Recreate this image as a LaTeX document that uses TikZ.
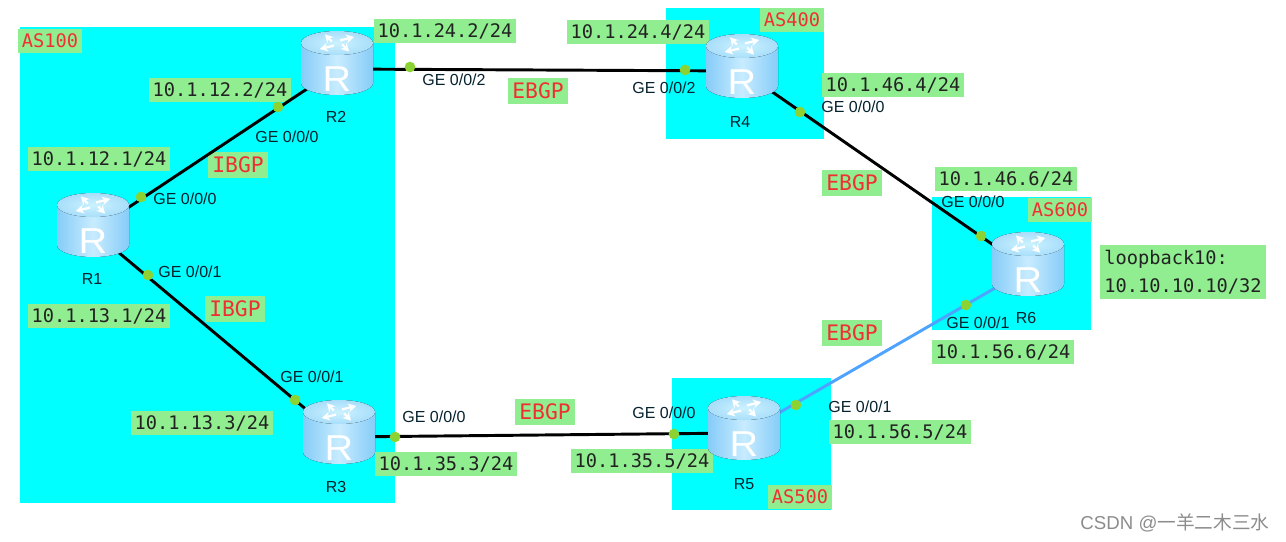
\documentclass[tikz,border=0pt]{standalone}
\usepackage{fontspec}
\setmainfont{Liberation Sans}
\setmonofont{DejaVu Sans Mono}
\newfontfamily\cjkfont{Noto Sans CJK SC}
\usetikzlibrary{arrows.meta, calc, positioning}
\definecolor{Zone}   {HTML}{00FFFF}
\definecolor{LGreen} {HTML}{90EE90}
\definecolor{TxtDark}{HTML}{222222}
\definecolor{TxtRed} {HTML}{F03030}
\definecolor{Dot}    {HTML}{8CD232}
\definecolor{Blue}   {HTML}{4DA3FF}
\definecolor{GeTxt}  {HTML}{06222E}
\definecolor{RtTop}  {HTML}{A8DEFA}
\definecolor{RtTopC} {HTML}{CCF2FF}
\definecolor{RtEdge} {HTML}{86CCF8}
\definecolor{RtMid}  {HTML}{C8ECFF}
\tikzset{
  zone/.style={fill=Zone, draw=none},
  ip/.style={
    rectangle, fill=LGreen, text=TxtDark,
    font=\ttfamily\fontsize{14}{21}\selectfont, align=left,
    inner xsep=3pt, inner ysep=3.5pt,
  },
  asn/.style={ip, text=TxtRed},
  peer/.style={ip, text=TxtRed, font=\ttfamily\fontsize{16}{20}\selectfont},
  ge/.style={font=\fontsize{12}{14}\selectfont, text=GeTxt, inner sep=0pt},
  rname/.style={font=\fontsize{12}{14}\selectfont, text=GeTxt, inner sep=0pt},
  rbox/.style={rectangle, minimum width=33pt, minimum height=27pt, inner sep=0pt},
  lnk/.style={line width=2.2pt, draw=black},
  port/.style={circle, fill=Dot, minimum size=8pt, inner sep=0pt},
  % router icon, drawn round its own centre
  pics/router/.style={code={
    \fill[left color=RtEdge, right color=RtEdge, middle color=RtMid]
      (-36,-20) -- (-36,20) arc[start angle=180, end angle=360, x radius=36, y radius=-12]
      -- (36,-20) -- cycle;
    \fill[inner color=RtTopC, outer color=RtTop] (0,-20) ellipse[x radius=36, y radius=12];
    \begin{scope}[shift={(0,-20)}, yscale=0.5]
      \foreach \a in {30,120,210,300}{
        \draw[white, line width=1.7pt, -{Stealth[length=6pt,width=6.5pt]}]
          (\a:6) -- (\a+25:21);
      }
    \end{scope}
    \node[text=white, font=\fontsize{27}{27}\selectfont, inner sep=0pt, xscale=1.1] at (0,16) {R};
  }},
}
\begin{document}
\begin{tikzpicture}[x=0.75pt,y=-0.75pt]
  \useasboundingbox (0,0) rectangle (1286,542);
  % AS areas
  \fill[zone] (20,27) rectangle (395,503);
  \fill[zone] (666,8) rectangle (824,139);
  \fill[zone] (672,378) rectangle (831,510);
  \fill[zone] (932,197) rectangle (1091,330);

  \node[asn] (as100) at (50,41) {AS100};
  \node[asn] (as400) at (792,20) {AS400};
  \node[asn] (as500) at (800,497) {AS500};
  \node[asn] (as600) at (1060,210) {AS600};

  \node[ip] (ip122) at (220,90) {10.1.12.2/24};
  \node[ip] (ip121) at (99,159) {10.1.12.1/24};
  \node[ip] (ip131) at (99,316) {10.1.13.1/24};
  \node[ip] (ip133) at (202,423) {10.1.13.3/24};
  \node[ip] (ip242) at (445,31) {10.1.24.2/24};
  \node[ip] (ip244) at (638,32) {10.1.24.4/24};
  \node[ip] (ip353) at (446,464) {10.1.35.3/24};
  \node[ip] (ip355) at (642,461) {10.1.35.5/24};
  \node[ip] (ip464) at (893,85) {10.1.46.4/24};
  \node[ip] (ip466) at (1006,179) {10.1.46.6/24};
  \node[ip] (ip566) at (1003,352) {10.1.56.6/24};
  \node[ip] (ip565) at (900,432) {10.1.56.5/24};
  \node[ip] (lo10) at (1183,272) {loopback10:\\10.10.10.10/32};

  \node[peer] (ibgpa) at (238,165) {IBGP};
  \node[peer] (ibgpb) at (235,309) {IBGP};
  \node[peer] (ebgpa) at (538,91) {EBGP};
  \node[peer] (ebgpb) at (852,183) {EBGP};
  \node[peer] (ebgpc) at (852,333) {EBGP};
  \node[peer] (ebgpd) at (545,412) {EBGP};

  % link end points, icons go on top
  \node[rbox] (R1) at (93,231) {};
  \node[rbox] (R2) at (337,69) {};
  \node[rbox] (R3) at (339,437) {};
  \node[rbox] (R4) at (742,71) {};
  \node[rbox] (R5) at (744,433) {};
  \node[rbox] (R6) at (1028,269) {};

  \draw[lnk] (R1)--(R2);
  \draw[lnk] (R1)--(R3);
  \draw[lnk] (R2)--(R4);
  \draw[lnk] (R3)--(R5);
  \draw[lnk] (R4)--(R6);
  \draw[lnk, draw=Blue] (R5)--(R6);

  \pic at (93,225) {router};
  \pic at (337,63) {router};
  \pic at (339,432) {router};
  \pic at (742,66) {router};
  \pic at (744,428) {router};
  \pic at (1028,264) {router};

  \foreach \n/\x/\y in {pa/141/197,pb/148/275,pc/278/107,pd/295/400,pe/395/437,pf/410/67,
                        pg/685/70,ph/674/434,pi/800/112,pj/981/236,pk/966/305,pl/796/405}{
    \node[port] (\n) at (\x,\y) {};
  }

  \node[rname] (n1) at (92,279) {R1};
  \node[rname] (n2) at (336,117) {R2};
  \node[rname] (n3) at (336,487) {R3};
  \node[rname] (n4) at (740,122) {R4};
  \node[rname] (n5) at (744,484) {R5};
  \node[rname] (n6) at (1026,318) {R6};

  \node[ge] (g1) at (185,199) {GE 0/0/0};
  \node[ge] (g2) at (190,272) {GE 0/0/1};
  \node[ge] (g3) at (287,137) {GE 0/0/0};
  \node[ge] (g4) at (312,377) {GE 0/0/1};
  \node[ge] (g5) at (434,417) {GE 0/0/0};
  \node[ge] (g6) at (664,413) {GE 0/0/0};
  \node[ge] (g7) at (860,407) {GE 0/0/1};
  \node[ge] (g8) at (454,80) {GE 0/0/2};
  \node[ge] (g9) at (664,88) {GE 0/0/2};
  \node[ge] (g10) at (853,107) {GE 0/0/0};
  \node[ge] (g11) at (973,202) {GE 0/0/0};
  \node[ge] (g12) at (978,323) {GE 0/0/1};

  \node[font=\fontsize{14}{16}\selectfont, text=black!45, inner sep=0pt] (mark) at (1175,523)
    {CSDN @{\cjkfont 一羊二木三水}};
\end{tikzpicture}
\end{document}
